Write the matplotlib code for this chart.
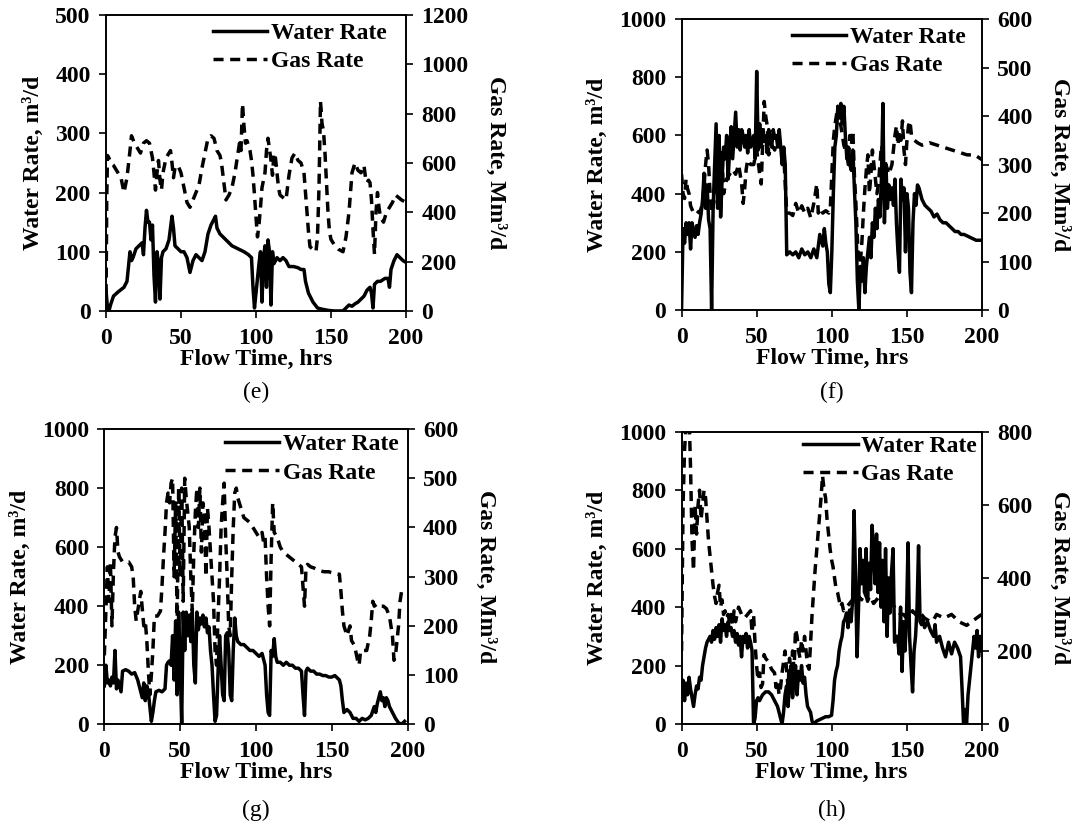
import numpy as np
import matplotlib
matplotlib.use("Agg")
import matplotlib.pyplot as plt
from matplotlib.lines import Line2D

plt.rcParams["font.family"] = ["Liberation Serif", "DejaVu Serif"]
plt.rcParams["font.weight"] = "bold"
plt.rcParams["axes.labelweight"] = "bold"
plt.rcParams["font.size"] = 17

# --- (e) ---
e_water_t = [0, 1, 2, 3, 5, 8, 12, 14, 15, 16, 17, 18, 20, 22, 24, 25, 26, 27, 28, 29, 30, 31, 32, 33, 34, 35,
             36, 37, 38, 40, 42, 44, 45, 46, 48, 50, 52, 54, 56, 58, 60, 62, 64, 66, 68, 70, 72, 73, 74, 76, 78,
             80, 84, 88, 92, 95, 97, 98, 99, 100, 102, 103, 104, 105, 106, 107, 108, 109, 110, 111, 112, 114,
             116, 118, 120, 122, 125, 128, 130, 132, 133, 135, 138, 141, 144, 148, 152, 158, 160, 162, 164, 166,
             168, 170, 172, 174, 176, 177, 178, 179, 181, 183, 186, 188, 189, 190, 192, 194, 196, 198, 200]
e_water = [35, 5, 0, 10, 25, 32, 40, 50, 75, 100, 85, 90, 105, 110, 115, 95, 140, 170, 150, 150, 120, 145, 60, 15,
           100, 80, 20, 90, 100, 105, 120, 160, 140, 110, 105, 100, 100, 90, 65, 85, 95, 90, 85, 100, 130, 145,
           155, 160, 140, 130, 125, 120, 110, 105, 100, 95, 90, 40, 5, 30, 80, 100, 15, 90, 110, 40, 120, 100, 10,
           100, 80, 90, 85, 90, 85, 75, 75, 73, 70, 70, 50, 30, 15, 5, 3, 1, 0, 0, 5, 10, 8, 12, 15, 20, 25, 35,
           40, 30, 5, 45, 50, 50, 55, 55, 40, 70, 85, 95, 90, 85, 82]
e_gas_t = [0, 0.5, 1, 2, 3, 5, 8, 10, 12, 14, 16, 17, 19, 21, 23, 25, 27, 29, 31, 32, 33, 34, 35, 36, 37, 38, 40,
           42, 43, 44, 45, 46, 48, 50, 52, 54, 56, 58, 60, 62, 64, 66, 68, 70, 72, 74, 76, 77, 79, 80, 82, 84, 86,
           88, 89, 90, 91, 92, 93, 94, 95, 96, 97, 98, 99, 100, 101, 102, 103, 104, 106, 107, 108, 110, 111, 112,
           113, 114, 115, 116, 118, 120, 122, 124, 126, 128, 130, 132, 133, 134, 135, 136, 138, 140, 141, 142,
           143, 144, 145, 146, 147, 148, 149, 150, 152, 155, 158, 160, 162, 164, 166, 168, 170, 172, 173, 174,
           175, 176, 177, 178, 179, 180, 181, 182, 183, 185, 187, 189, 191, 193, 195, 197, 200]
e_gas = [0, 450, 630, 620, 600, 590, 560, 540, 480, 540, 650, 710, 680, 660, 640, 680, 690, 680, 620, 560, 490,
         560, 610, 530, 490, 560, 620, 640, 650, 600, 540, 580, 590, 560, 500, 440, 420, 450, 480, 510, 580, 640,
         700, 710, 700, 650, 630, 600, 500, 450, 470, 500, 560, 640, 680, 650, 840, 750, 680, 690, 670, 650, 610,
         550, 470, 380, 300, 350, 420, 500, 560, 650, 700, 610, 550, 640, 620, 560, 500, 470, 460, 450, 550, 620,
         640, 610, 600, 560, 480, 400, 320, 260, 250, 240, 300, 500, 850, 760, 730, 640, 520, 400, 320, 290, 270,
         250, 240, 300, 400, 560, 600, 570, 560, 590, 540, 520, 530, 520, 450, 330, 230, 400, 480, 420, 380, 360,
         400, 420, 440, 470, 460, 450, 440]

# --- (f) ---
f_water_t = list(range(0, 71)) + [72, 74, 76, 78, 80, 82, 84, 86, 88, 90, 92, 94] + list(range(95, 159)) + \
            [160, 162, 164, 166, 168, 170, 172, 174, 176, 178, 180, 182, 184, 186, 188, 190, 192, 194, 196, 198, 200]
f_water = [0, 280, 230, 300, 260, 300, 210, 300, 270, 250, 290, 260, 300, 330, 380, 470, 350, 430, 310, 280, 0,
           350, 500, 640, 350, 600, 320, 450, 560, 520, 600, 450, 550, 630, 520, 600, 680, 560, 620, 550, 620, 600,
           560, 600, 540, 620, 560, 580, 600, 520, 820, 550, 640, 560, 620, 580, 600, 540, 620, 580, 560, 620, 590,
           600, 560, 620, 560, 500, 560, 500, 190,
           200, 190, 200, 180, 210, 190, 200, 180, 210, 180, 260, 220,
           280, 230, 200, 90, 60, 200, 400, 560, 600, 700, 660, 710, 640, 700, 600, 520, 560, 500, 480, 550, 420,
           300, 100, 0, 150, 100, 180, 60, 150, 200, 250, 180, 300, 250, 350, 280, 380, 320, 450, 710, 300, 500,
           350, 430, 380, 420, 360, 450, 300, 200, 130, 450, 380, 420, 200, 400, 350, 130, 60, 300, 400, 360, 430,
           420,
           380, 360, 350, 340, 320, 330, 310, 300, 300, 290, 280, 270, 270, 260, 260, 255, 250, 245, 240, 240, 240]
f_gas_t = [0, 1, 2, 3, 4, 5, 6, 8, 10, 12, 14, 15, 16, 17, 18, 19, 20, 22, 24, 25, 26, 27, 28, 30, 32, 34, 36, 38,
           40, 41, 42, 43, 44, 46, 48, 50, 52, 53, 55, 56, 57, 58, 60, 62, 64, 66, 68, 70, 72, 74, 76, 78, 80, 82,
           84, 86, 88, 90, 91, 92, 94, 96, 98, 99, 100, 101, 102, 103, 104, 105, 106, 108, 110, 111, 112, 113, 114,
           115, 116, 117, 118, 119, 120, 121, 122, 123, 124, 125, 126, 127, 128, 129, 130, 131, 132, 133, 134, 136,
           138, 140, 141, 142, 143, 144, 145, 146, 147, 148, 149, 150, 151, 152, 153, 155, 157, 160, 165, 170, 175,
           180, 185, 190, 195, 200]
f_gas = [280, 240, 230, 270, 250, 240, 215, 200, 205, 200, 220, 260, 300, 330, 300, 240, 200, 230, 260, 300, 330,
         310, 240, 270, 280, 290, 280, 300, 260, 220, 250, 290, 310, 300, 300, 330, 280, 260, 430, 400, 380, 320,
         340, 330, 360, 340, 320, 200, 200, 195, 220, 200, 215, 200, 210, 190, 220, 260, 200, 210, 200, 205, 200,
         210, 280, 350, 380, 400, 420, 390, 380, 340, 320, 300, 360, 340, 370, 280, 220, 150, 60, 100, 140, 200,
         250, 290, 320, 240, 280, 330, 300, 270, 240, 260, 300, 340, 320, 300, 280, 300, 330, 360, 380, 340, 370,
         350, 390, 330, 300, 350, 380, 390, 360, 350, 345, 340, 345, 340, 335, 330, 325, 320, 320, 310]

# --- (g) ---
g_water_t = [0, 1, 2, 3, 4, 5, 6, 7, 8, 9, 10, 11, 12, 14, 16, 18, 20, 22, 24, 25, 26, 27, 28, 29, 30, 31, 32, 33,
             34, 36, 38, 40] + list(range(41, 89)) + \
            [90, 92, 94, 96, 98, 100, 102, 104, 105, 106, 107, 108, 109, 110, 111, 112, 113, 114, 116, 118, 120,
             122, 124, 126, 128, 130, 131, 132, 133, 134, 136, 138, 140, 142, 144, 146, 148, 150, 152, 154, 155,
             156, 157, 158, 160, 162, 163, 164, 166, 168, 170, 172, 174, 176, 178, 179, 180, 182, 183, 184, 185,
             186, 187, 188, 190, 192, 194, 196, 198]
g_water = [130, 200, 140, 150, 130, 160, 140, 250, 120, 150, 130, 110, 180, 185, 180, 170, 175, 150, 110, 90, 140,
           80, 130, 110, 60, 10, 40, 80, 110, 115, 110, 120,
           200, 210, 215, 200, 300, 150, 350, 100, 380, 200, 0, 380, 250, 380, 300, 370, 280, 380, 200, 140, 380,
           320, 360, 340, 370, 330, 360, 310, 330, 250, 200, 100, 10, 30, 180, 300, 200, 100, 80, 300, 310, 250,
           100, 80, 250, 360, 300, 280,
           270, 270, 260, 250, 250, 240, 230, 240, 220, 200, 100, 40, 30, 250, 230, 290, 230, 210, 210, 200, 210,
           200, 200, 190, 190, 180, 100, 30, 180, 190, 180, 180, 170, 170, 165, 165, 160, 160, 165, 155, 150, 130,
           80, 40, 50, 40, 30, 20, 20, 10, 20, 15, 20, 30, 60, 40, 70, 110, 80, 90, 60, 90, 80, 60, 40, 20, 5, 0,
           10]
g_gas_t = [0, 1, 2, 3, 4, 5, 6, 7, 8, 9, 10, 12, 14, 16, 18, 19, 20, 21, 22, 24, 26, 27, 28, 29, 30, 31, 32, 33,
           35, 37] + list(range(38, 89)) + \
          [90, 92, 94, 96, 98, 100, 102, 104, 105, 106, 107, 108, 109, 110, 111, 112, 114, 116, 118, 120, 122, 124,
           126, 128, 130, 131, 132, 133, 134, 136, 138, 140, 142, 145, 148, 150, 152, 155, 156, 157, 158, 160, 162,
           163, 165, 167, 168, 169, 171, 173, 175, 176, 177, 178, 180, 182, 184, 186, 188, 190, 191, 192, 193, 194,
           195, 196]
g_gas = [140, 230, 320, 250, 330, 200, 310, 380, 400, 350, 340, 330, 330, 330, 320, 300, 240, 210, 230, 270, 200,
         210, 170, 110, 60, 100, 150, 220, 220, 230,
         280, 340, 390, 450, 470, 450, 490, 500, 300, 450, 200, 480, 300, 480, 250, 500, 460, 430, 400, 300, 230,
         350, 430, 480, 400, 480, 350, 450, 420, 300, 440, 400, 350, 300, 250, 150, 120, 220, 300, 400, 450, 490,
         380, 300, 200, 180, 300, 400, 470, 480, 460,
         440, 420, 415, 410, 400, 390, 380, 390, 370, 380, 300, 240, 200, 340, 450, 390, 380, 360, 350, 345, 340,
         335, 330, 325, 320, 280, 240, 320, 325, 320, 318, 315, 312, 310, 310, 308, 306, 305, 270, 230, 200, 180,
         200, 170, 160, 130, 120, 150, 150, 150, 180, 210, 250, 240, 245, 240, 240, 235, 220, 180, 130, 140, 170,
         200, 250, 270]

# --- (h) ---
h_water_t = list(range(0, 53)) + [54, 56, 58, 60, 62, 64, 66] + list(range(67, 85)) + \
            [86, 87, 88, 90, 92, 94, 96, 98] + list(range(100, 163)) + \
            [164, 166, 168, 169, 170, 172, 174, 176, 178, 180, 182, 184, 186] + list(range(187, 201))
h_water = [100, 150, 80, 140, 100, 160, 120, 90, 60, 100, 130, 120, 160, 150, 200, 230, 260, 280, 290, 300, 280,
           320, 290, 330, 300, 340, 280, 360, 320, 340, 300, 350, 320, 330, 300, 320, 280, 310, 270, 300, 230, 300,
           280, 310, 260, 300, 280, 250, 0, 20, 80, 90, 80,
           100, 110, 110, 100, 80, 60, 20,
           0, 40, 100, 130, 60, 140, 200, 90, 150, 200, 100, 180, 150, 200, 140, 160, 100, 60,
           40, 10, 0, 10, 15, 20, 25, 25,
           30, 80, 150, 180, 200, 250, 280, 300, 350, 360, 380, 330, 390, 350, 420, 730, 500, 230, 400, 600, 480,
           560, 450, 600, 420, 550, 460, 680, 600, 480, 650, 450, 620, 400, 560, 350, 600, 300, 500, 380, 520, 600,
           280, 300, 300, 240, 400, 180, 350, 250, 380, 620, 300, 200, 110, 250, 300, 400, 610, 350, 340, 360, 330,
           350, 320, 300, 340, 280, 300, 260, 230, 280, 240, 280, 260, 230,
           120, 0, 50, 0, 100, 150, 200, 250, 300, 260, 320, 230, 300, 250]
h_gas_t = list(range(0, 39)) + [40, 42, 44] + list(range(46, 57)) + [58, 60, 62] + list(range(63, 109)) + \
          [110, 112, 114, 116, 118, 120, 122, 124, 126, 128, 130, 132, 134, 136, 138, 140, 142, 144, 146, 148,
           150, 152, 154, 156, 158, 160, 162, 164, 166, 168, 170, 175, 180, 185, 190, 195, 200]
h_gas = [200, 600, 750, 820, 850, 850, 700, 500, 420, 600, 520, 600, 640, 560, 600, 640, 620, 560, 500, 460, 420,
         380, 350, 330, 360, 380, 320, 340, 300, 310, 290, 300, 280, 300, 270, 310, 280, 300, 320,
         300, 290, 300,
         310, 250, 300, 220, 160, 120, 140, 100, 110, 190, 180,
         170, 150, 140,
         100, 120, 80, 100, 140, 170, 200, 150, 100, 180, 120, 200, 150, 260, 240, 200, 180, 230, 200, 240, 200,
         160, 150, 220, 300, 360, 420, 470, 520, 570, 620, 680, 640, 620, 560, 520, 480, 450, 430, 400, 370, 360,
         340, 320, 330, 310,
         320, 330, 340, 330, 350, 340, 360, 340, 350, 330, 340, 350, 330, 340, 320, 330, 320, 310, 300, 300, 290,
         300, 310, 300, 310, 300, 290, 285, 280, 285, 300, 290, 300, 280, 270, 285, 300]

LW = 2.5
GAS_DASH = (0, (2.9, 1.9))

# caption, axes rect, water series, gas series, axis limits/steps, legend anchor
panels = [
    ("(e)", [0.0975, 0.624, 0.276, 0.358], (e_water_t, e_water), (e_gas_t, e_gas), (500, 100), (1200, 200), (0.935, 0.975)),
    ("(f)", [0.627, 0.625, 0.2765, 0.352], (f_water_t, f_water), (f_gas_t, f_gas), (1000, 200), (600, 100), (0.945, 0.975)),
    ("(g)", [0.096, 0.1242, 0.279, 0.357], (g_water_t, g_water), (g_gas_t, g_gas), (1000, 200), (600, 100), (0.97, 0.985)),
    ("(h)", [0.627, 0.1245, 0.276, 0.3534], (h_water_t, h_water), (h_gas_t, h_gas), (1000, 200), (800, 200), (0.985, 0.988)),
]

fig = plt.figure(figsize=(10.87, 8.27), dpi=100)

for caption, rect, (wt, wv), (gt, gv), (wmax, wstep), (gmax, gstep), leg_anchor in panels:
    assert len(wt) == len(wv) and len(gt) == len(gv), caption
    ax = fig.add_axes(rect)
    ax2 = ax.twinx()
    ax.plot(wt, wv, color="black", lw=LW)
    ax2.plot(gt, gv, color="black", lw=LW, ls=GAS_DASH)

    ax.set_xlim(0, 200)
    ax.set_xticks(range(0, 201, 50))
    ax.set_ylim(0, wmax)
    ax.set_yticks(np.arange(0, wmax + 1, wstep))
    ax2.set_ylim(0, gmax)
    ax2.set_yticks(np.arange(0, gmax + 1, gstep))

    ax.set_xlabel("Flow Time, hrs", labelpad=0)
    ax.set_ylabel("Water Rate, m³/d", labelpad=8)
    ax2.set_ylabel("Gas Rate, Mm³/d", rotation=270, va="bottom", labelpad=12)

    for a in (ax, ax2):
        a.tick_params(direction="out", length=5, width=1.2, pad=6)
        for sp in a.spines.values():
            sp.set_linewidth(1.2)
    ax.tick_params(axis="x", pad=7)

    handles = [Line2D([], [], color="black", lw=LW), Line2D([], [], color="black", lw=LW, ls=GAS_DASH)]
    ax2.legend(handles, ["Water Rate", "Gas Rate"], loc="upper right", bbox_to_anchor=leg_anchor,
               frameon=False, handlelength=2.3, handletextpad=0.15, labelspacing=0.3,
               borderpad=0, borderaxespad=0)

    cx = rect[0] + rect[2] / 2
    cy = 0.526 if rect[1] > 0.5 else 0.02
    fig.text(cx, cy, caption, ha="center", va="center", fontweight="normal")

fig.savefig("out.png", dpi=100)
